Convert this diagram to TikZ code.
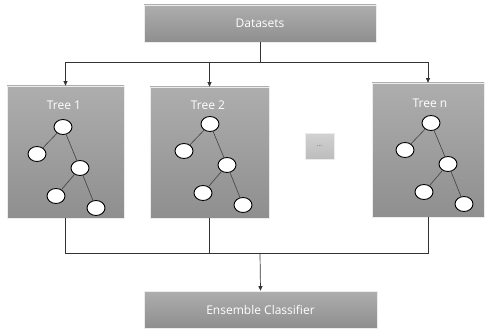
\documentclass[tikz,border=0pt]{standalone}
\usepackage{fontspec}
\setmainfont{Open Sans}
\usetikzlibrary{arrows.meta,shapes.geometric}

\tikzset{
  graybox/.style={draw=white!85!gray, line width=0.7pt,
    top color=white!68!black, bottom color=white!56!black,
    text=white, font=\fontsize{12}{14}\selectfont, inner sep=0pt},
  title/.style={text=white, font=\fontsize{12}{14}\selectfont},
  leaf/.style={ellipse, draw=black, line width=0.9pt, fill=white,
    minimum width=18pt, minimum height=15pt, inner sep=0pt},
  branch/.style={draw=black!75, line width=0.6pt},
  wire/.style={draw=black!80, line width=0.7pt},
  arrow/.style={wire, -{Triangle[length=4.5pt,width=4pt]}},
  tree/.pic={
    \node[leaf] (-r) at (0,0) {};
    \node[leaf] (-a) at (-26,27) {};
    \node[leaf] (-b) at (17,41) {};
    \node[leaf] (-c) at (-7,69) {};
    \node[leaf] (-d) at (33,81) {};
    \draw[branch] (-r) -- (-a);
    \draw[branch] (-r) -- (-b);
    \draw[branch] (-b) -- (-c);
    \draw[branch] (-b) -- (-d);
  }
}

\begin{document}
\begin{tikzpicture}[x=1pt, y=-1pt]
\useasboundingbox (0,0) rectangle (485,329);

% input and output boxes
\node[graybox, minimum width=232pt, minimum height=37pt] (ds) at (260,23.5) {Datasets};
\node[graybox, minimum width=233pt, minimum height=37pt] (ens) at (260.5,309.5) {Ensemble Classifier};

% tree panels
\node[graybox, minimum width=117pt, minimum height=132pt] (t1) at (65.5,152) {};
\node[graybox, minimum width=119pt, minimum height=131pt] (t2) at (209.5,152.5) {};
\node[graybox, minimum width=112pt, minimum height=134pt] (tn) at (428,150) {};
\node[graybox, minimum width=29pt, minimum height=26pt,
      top color=white!82!black, bottom color=white!74!black,
      text=black!60, font=\fontsize{7}{8}\selectfont] (dots) at (319.5,146) {...};

% panel titles
\node[title] (l1) at (64,105) {Tree 1};
\node[title] (l2) at (208,105) {Tree 2};
\node[title] (ln) at (430,103) {Tree n};

% decision trees
\pic (A) at (63,127) {tree};
\pic (B) at (210,124) {tree};
\pic (N) at (431,123) {tree};

% fan-out from the datasets
\coordinate (split) at (260,62);
\draw[wire] (ds.south) -- (split);
\draw[arrow] (split) -| (t1.north);
\draw[arrow] (split) -| (t2.north);
\draw[arrow] (split) -| (tn.north);

% fan-in to the ensemble
\coordinate (merge) at (260,253);
\draw[wire] (t1.south) |- (merge);
\draw[wire] (t2.south) |- (merge);
\draw[wire] (tn.south) |- (merge);
\draw[arrow] (merge) -- (ens.north);
\end{tikzpicture}
\end{document}
